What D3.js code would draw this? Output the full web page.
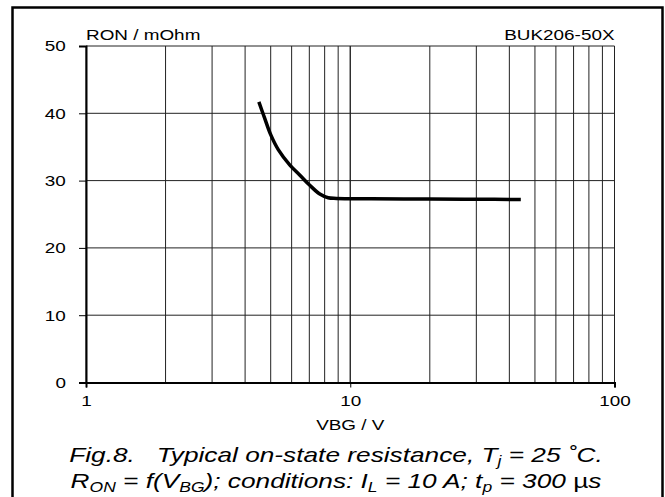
<!DOCTYPE html>
<html>
<head>
<meta charset="utf-8">
<script src="https://cdn.jsdelivr.net/npm/d3@7"></script>
<style>
  body { margin: 0; background: #fff; }
  svg text { font-family: "Liberation Sans", Arial, sans-serif; fill: #000; }
</style>
</head>
<body>
<script>
// curve
const vbg = [4.51, 4.75, 4.99, 5.34, 5.91, 6.45, 7.03, 7.67, 8.25, 8.87, 12, 20, 30, 44.2];
const ron = [41.7, 39.2, 36.9, 34.6, 32.3, 30.8, 29.3, 28.0, 27.45, 27.35, 27.3, 27.25, 27.22, 27.2];

const yTicks = [0, 10, 20, 30, 40, 50];
const xTicks = [1, 10, 100];

const w = 665;
const h = 497;

const plotL = 86, plotR = 614.5, plotT = 46, plotB = 382.5;
// the scanned figure's lettering is a bit wider than it is tall
const sx = 1.22;

let svg = d3.select('body').append('svg').attr('width', w).attr('height', h);

// outer frame
svg.append('rect')
  .attr('x', 12.5).attr('y', 7.5)
  .attr('width', 650).attr('height', 510)
  .attr('fill', 'none').attr('stroke', '#000').attr('stroke-width', 2.5);

let x = d3.scaleLog().domain([1, 100]).range([plotL, plotR]);
let y = d3.scaleLinear().domain([0, 50]).range([plotB, plotT]);

// vertical grid: 1..10, 10..100
let xGrid = [];
for (let d = 1; d < 100; d *= 10) {
  for (let k = 1; k <= 10; k++) xGrid.push(d * k);
}

svg.append('g')
  .selectAll('line')
  .data(xGrid)
  .enter()
  .append('line')
  .attr('x1', (d) => x(d)).attr('x2', (d) => x(d))
  .attr('y1', plotT).attr('y2', plotB)
  .attr('stroke', '#222').attr('stroke-width', 1);

svg.append('g')
  .selectAll('line')
  .data(yTicks)
  .enter()
  .append('line')
  .attr('x1', plotL).attr('x2', plotR)
  .attr('y1', (d) => y(d)).attr('y2', (d) => y(d))
  .attr('stroke', '#222').attr('stroke-width', 1);

// axes
svg.append('g')
  .attr('transform', 'translate(' + plotL + ',0)')
  .call(d3.axisLeft(y).tickValues(yTicks).tickSize(7).tickPadding(9.5))
  .call((g) => g.select('.domain').attr('stroke-width', 2))
  .call((g) => g.selectAll('text')
    .attr('font-size', 15.5)
    .attr('font-family', 'Liberation Sans, Arial, sans-serif')
    .attr('transform', 'scale(' + sx + ',1)'));

svg.append('g')
  .attr('transform', 'translate(0,' + plotB + ')')
  .call(d3.axisBottom(x).tickValues(xTicks).tickFormat(d3.format('d')).tickSize(5).tickPadding(8))
  .call((g) => g.select('.domain').attr('stroke-width', 2))
  .call((g) => g.selectAll('text')
    .attr('font-size', 15.5)
    .attr('font-family', 'Liberation Sans, Arial, sans-serif')
    .attr('transform', 'scale(' + sx + ',1)'));

// curve
let line = d3.line()
  .x((d, i) => x(vbg[i]))
  .y((d, i) => y(ron[i]))
  .curve(d3.curveCatmullRom.alpha(0.5));

svg.append('path')
  .datum(vbg)
  .attr('d', line)
  .attr('fill', 'none')
  .attr('stroke', '#000')
  .attr('stroke-width', 3.5);

// labels
function label(px, py, str, anchor) {
  return svg.append('text')
    .attr('transform', 'translate(' + px + ',' + py + ') scale(' + sx + ',1)')
    .attr('font-size', 15.5)
    .attr('text-anchor', anchor)
    .text(str);
}
label(plotL, 40, 'RON / mOhm', 'start');
label(plotR, 40, 'BUK206-50X', 'end');
label(x(10), 430, 'VBG / V', 'middle');

// caption
function caption(yPos, parts) {
  let t = svg.append('text')
    .attr('transform', 'translate(336,' + yPos + ') scale(1.25,1)')
    .attr('font-size', 21).attr('font-style', 'italic')
    .attr('text-anchor', 'middle')
    .attr('xml:space', 'preserve');
  parts.forEach((p) => {
    let s = t.append('tspan').text(p.t);
    if (p.sub) s.attr('font-size', 14).attr('baseline-shift', '-4');
    if (p.up) s.attr('font-style', 'normal');
  });
}

caption(462, [
  { t: 'Fig.8.   Typical on-state resistance, T' },
  { t: 'j', sub: true },
  { t: ' = 25 ˚C.' }
]);
caption(488, [
  { t: 'R' }, { t: 'ON', sub: true },
  { t: ' = f(V' }, { t: 'BG', sub: true },
  { t: '); conditions: I' }, { t: 'L', sub: true },
  { t: ' = 10 A; t' }, { t: 'p', sub: true },
  { t: ' = 300 ' }, { t: 'µ', up: true }, { t: 's' }
]);
</script>
</body>
</html>
